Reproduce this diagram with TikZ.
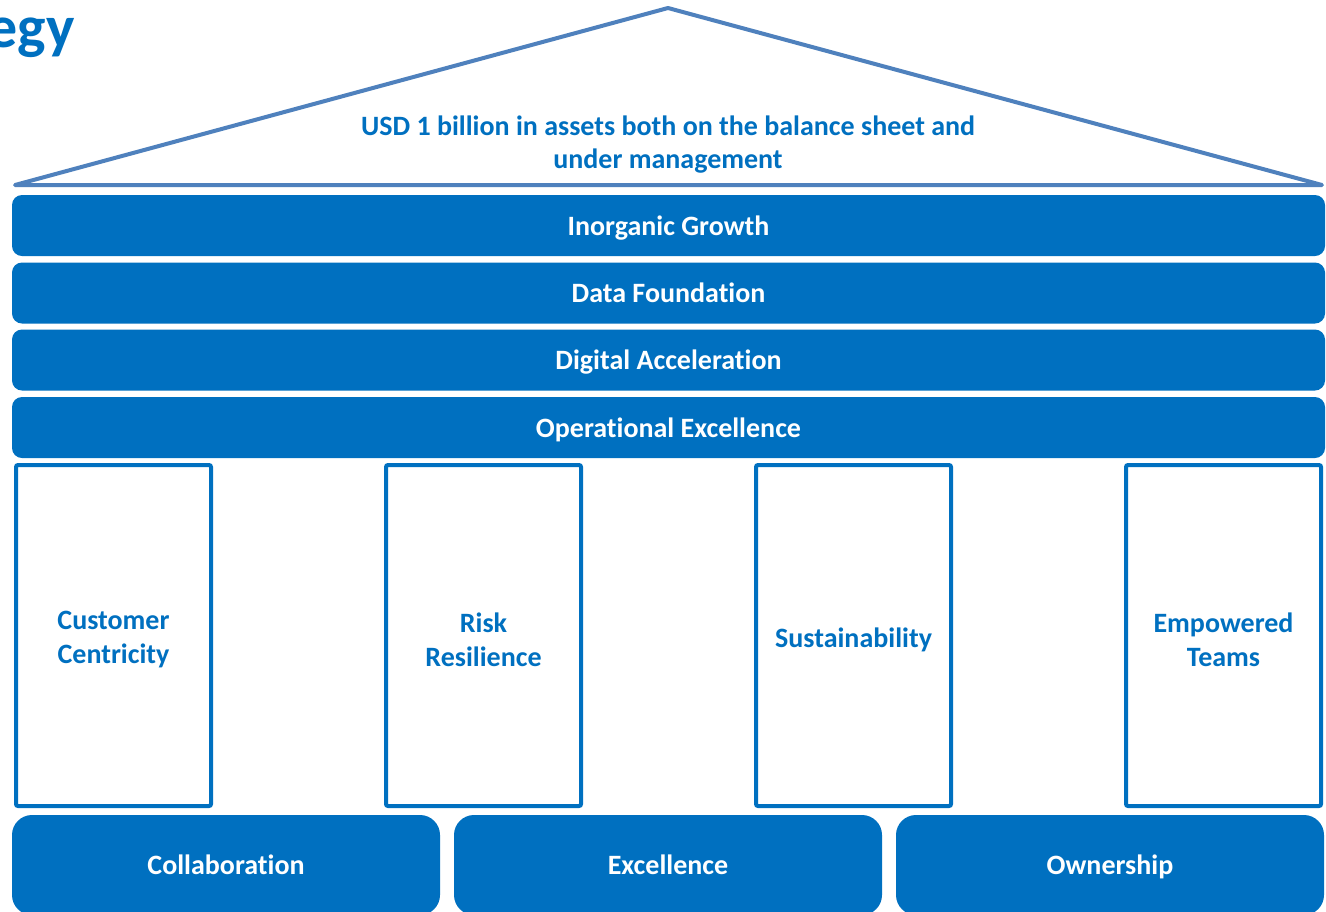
\documentclass[tikz,border=0pt]{standalone}
\usepackage{fontspec}
\setmainfont[Ligatures={NoCommon}]{Carlito}
\definecolor{mainblue}{HTML}{0070C0}
\definecolor{roofblue}{HTML}{4F81BD}
\tikzset{
  txt/.style={font=\bfseries\fontsize{14}{17}\selectfont},
  bar/.style={txt, fill=mainblue, text=white, rounded corners=5pt, inner sep=0pt,
    text height=11.5pt, text depth=2pt,
    minimum width=656.5pt, minimum height=30.5pt},
  pillar/.style={draw=mainblue, line width=2pt, fill=white,
    rounded corners=1pt, inner sep=0pt,
    minimum width=97.5pt, minimum height=170.5pt},
  ptext/.style={txt, text=mainblue, align=center, inner sep=0pt},
  base/.style={txt, fill=mainblue, text=white, rounded corners=10pt, inner sep=0pt,
    text height=11.5pt, text depth=2pt,
    minimum width=214pt, minimum height=50pt},
  roofline/.style={draw=roofblue, line width=2pt, line join=round, line cap=round}
}
\begin{document}
\begin{tikzpicture}[x=0.5pt,y=-0.5pt]
\useasboundingbox (0,0) rectangle (1326,911);
\clip (0,0) rectangle (1326,911);
\fill[white] (0,0) rectangle (1326,911);

% title fragment
\node[anchor=base east, inner sep=0pt, text=mainblue, font=\bfseries\fontsize{30}{34}\selectfont] (title) at (75,47) {egy};

% roof
\coordinate (apex) at (668,8);
\coordinate (rl) at (15,185);
\coordinate (rr) at (1322,185);
\draw[roofline] (rl) -- (apex) -- (rr) -- cycle;
\node[txt, text=mainblue, align=center, font=\bfseries\fontsize{14}{16.5}\selectfont] (goal) at (668,145)
  {USD 1 billion in assets both on the balance sheet and\\under management};

% bars
\node[bar] (ig) at (668.5,225.5) {Inorganic Growth};
\node[bar] (df) at (668.5,293) {Data Foundation};
\node[bar] (da) at (668.5,360) {Digital Acceleration};
\node[bar] (oe) at (668.5,427.5) {Operational Excellence};

% pillars
\node[pillar] (cc) at (113.5,635.5) {};
\node[pillar] (rs) at (483.5,635.5) {};
\node[pillar] (su) at (853.5,635.5) {};
\node[pillar] (et) at (1223.5,635.5) {};
\node[ptext] (cct) at (113.5,640) {Customer\\Centricity};
\node[ptext] (rst) at (483.5,640) {Risk\\Resilience};
\node[ptext] (sut) at (853.5,640) {Sustainability};
\node[ptext] (ett) at (1223.5,640) {Empowered\\Teams};

% base
\node[base] (co) at (226,865) {Collaboration};
\node[base] (ex) at (668,865) {Excellence};
\node[base] (ow) at (1110,865) {Ownership};
\end{tikzpicture}
\end{document}
